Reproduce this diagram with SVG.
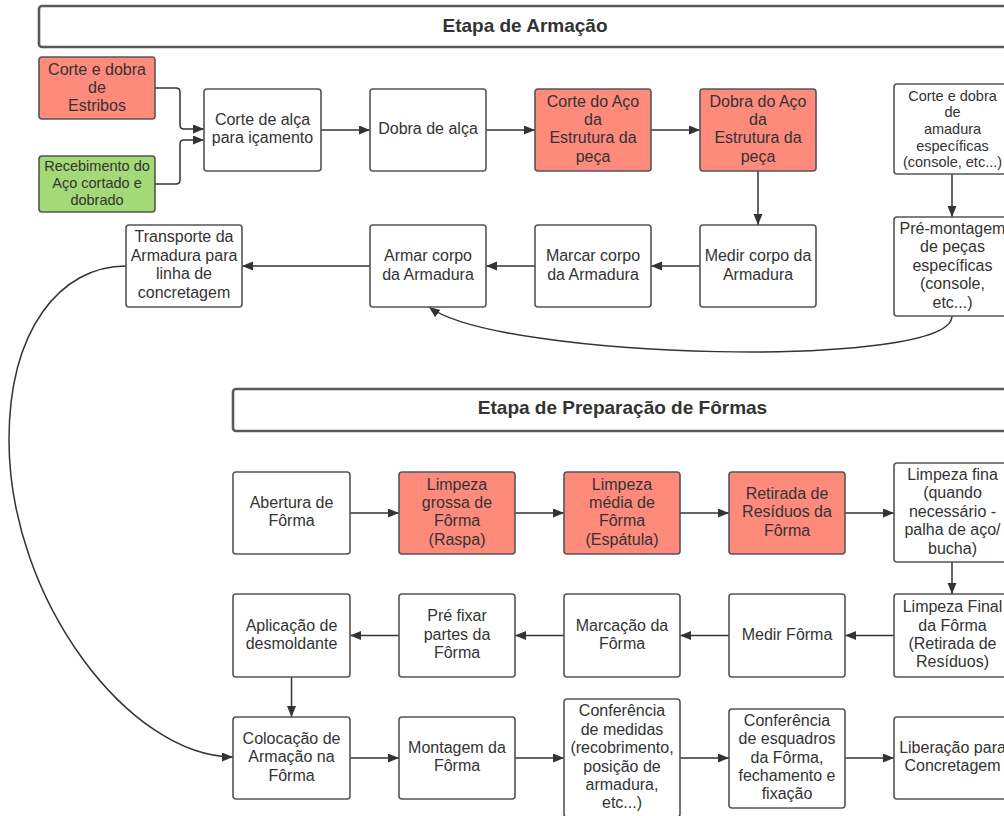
<svg xmlns="http://www.w3.org/2000/svg" width="1004" height="816" viewBox="0 0 1004 816">
<defs>
<style>
.bx{fill:#ffffff;stroke:#555555;stroke-width:1.6}
.red{fill:#FE8A7B}
.grn{fill:#A3D977}
.ttl{fill:#ffffff;stroke:#5a5a5a;stroke-width:2.6}
.t{font-family:"Liberation Sans",Arial,sans-serif;font-size:16px;fill:#333333;text-anchor:middle}
.s{font-size:14.5px}
.h{font-family:"Liberation Sans",Arial,sans-serif;font-size:19px;font-weight:bold;fill:#333333;text-anchor:middle}
.c{fill:none;stroke:#333333;stroke-width:1.5}
</style>
<marker id="ah" markerUnits="userSpaceOnUse" markerWidth="12" markerHeight="10" refX="11" refY="4.5" orient="auto">
<path d="M0,0 L11,4.5 L0,9 z" fill="#333333"/>
</marker>
</defs>
<rect width="1004" height="816" fill="#ffffff"/>

<g id="title-armacao">
<rect class="ttl" x="39" y="6" width="974" height="41" rx="3"/>
<text class="h" x="525" y="32">Etapa de Armação</text>
</g>
<g id="title-formas">
<rect class="ttl" x="233" y="389" width="780" height="42" rx="3"/>
<text class="h" x="622.5" y="414">Etapa de Preparação de Fôrmas</text>
</g>

<g id="connectors">
<path class="c" marker-end="url(#ah)" d="M155,88 H176 Q180,88 180,92 V125 Q180,129 184,129 H204"/>
<path class="c" marker-end="url(#ah)" d="M155,184 H176 Q180,184 180,180 V144 Q180,140 184,140 H204"/>
<path class="c" marker-end="url(#ah)" d="M321,130 H370"/>
<path class="c" marker-end="url(#ah)" d="M486,130 H535"/>
<path class="c" marker-end="url(#ah)" d="M651,130 H700"/>
<path class="c" marker-end="url(#ah)" d="M758,171 V225"/>
<path class="c" marker-end="url(#ah)" d="M952,174 V217"/>
<path class="c" marker-end="url(#ah)" d="M700,266 H651"/>
<path class="c" marker-end="url(#ah)" d="M535,266 H486"/>
<path class="c" marker-end="url(#ah)" d="M370,266 H242"/>
<path class="c" marker-end="url(#ah)" d="M952,316 C952,370 500,360 429,307"/>
<path class="c" marker-end="url(#ah)" d="M126,266 C60,266 9,330 9,440 C9,600 130,757 233,757"/>
<path class="c" marker-end="url(#ah)" d="M350,513 H399"/>
<path class="c" marker-end="url(#ah)" d="M515,513 H564"/>
<path class="c" marker-end="url(#ah)" d="M680,513 H729"/>
<path class="c" marker-end="url(#ah)" d="M845,513 H894"/>
<path class="c" marker-end="url(#ah)" d="M952,562 V594"/>
<path class="c" marker-end="url(#ah)" d="M894,635.5 H845"/>
<path class="c" marker-end="url(#ah)" d="M729,635.5 H680"/>
<path class="c" marker-end="url(#ah)" d="M564,635.5 H515"/>
<path class="c" marker-end="url(#ah)" d="M399,635.5 H350"/>
<path class="c" marker-end="url(#ah)" d="M291.5,677 V717"/>
<path class="c" marker-end="url(#ah)" d="M350,758 H399"/>
<path class="c" marker-end="url(#ah)" d="M515,758 H564"/>
<path class="c" marker-end="url(#ah)" d="M680,758 H729"/>
<path class="c" marker-end="url(#ah)" d="M845,758 H894"/>
</g>

<g id="n-estribos">
<rect class="bx red" x="39" y="57" width="116" height="62" rx="3"/>
<text class="t"><tspan x="97" y="74.5">Corte e dobra</tspan><tspan x="97" y="92.9">de</tspan><tspan x="97" y="111.3">Estribos</tspan></text>
</g>
<g id="n-recebimento">
<rect class="bx grn" x="39" y="156" width="116" height="56" rx="3"/>
<text class="t s"><tspan x="97" y="171.2">Recebimento do</tspan><tspan x="97" y="187.9">Aço cortado e</tspan><tspan x="97" y="204.6">dobrado</tspan></text>
</g>
<g id="n-corte-alca">
<rect class="bx" x="204" y="89" width="117" height="82" rx="3"/>
<text class="t"><tspan x="262.5" y="125">Corte de alça</tspan><tspan x="262.5" y="143.4">para içamento</tspan></text>
</g>
<g id="n-dobra-alca">
<rect class="bx" x="370" y="89" width="116" height="82" rx="3"/>
<text class="t"><tspan x="428" y="134.2">Dobra de alça</tspan></text>
</g>
<g id="n-corte-aco">
<rect class="bx red" x="535" y="89" width="116" height="82" rx="3"/>
<text class="t"><tspan x="593" y="106.6">Corte do Aço</tspan><tspan x="593" y="125">da</tspan><tspan x="593" y="143.4">Estrutura da</tspan><tspan x="593" y="161.8">peça</tspan></text>
</g>
<g id="n-dobra-aco">
<rect class="bx red" x="700" y="89" width="116" height="82" rx="3"/>
<text class="t"><tspan x="758" y="106.6">Dobra do Aço</tspan><tspan x="758" y="125">da</tspan><tspan x="758" y="143.4">Estrutura da</tspan><tspan x="758" y="161.8">peça</tspan></text>
</g>
<g id="n-corte-especificas">
<rect class="bx" x="894" y="84" width="117" height="90" rx="3"/>
<text class="t s"><tspan x="952.5" y="100.5">Corte e dobra</tspan><tspan x="952.5" y="117.2">de</tspan><tspan x="952.5" y="133.9">amadura</tspan><tspan x="952.5" y="150.6">específicas</tspan><tspan x="952.5" y="167.3">(console, etc...)</tspan></text>
</g>
<g id="n-transporte">
<rect class="bx" x="126" y="225" width="116" height="82" rx="3"/>
<text class="t"><tspan x="184" y="242.4">Transporte da</tspan><tspan x="184" y="260.8">Armadura para</tspan><tspan x="184" y="279.2">linha de</tspan><tspan x="184" y="297.6">concretagem</tspan></text>
</g>
<g id="n-armar">
<rect class="bx" x="370" y="225" width="116" height="82" rx="3"/>
<text class="t"><tspan x="428" y="261.2">Armar corpo</tspan><tspan x="428" y="279.6">da Armadura</tspan></text>
</g>
<g id="n-marcar">
<rect class="bx" x="535" y="225" width="116" height="82" rx="3"/>
<text class="t"><tspan x="593" y="261.2">Marcar corpo</tspan><tspan x="593" y="279.6">da Armadura</tspan></text>
</g>
<g id="n-medir-corpo">
<rect class="bx" x="700" y="225" width="116" height="82" rx="3"/>
<text class="t"><tspan x="758" y="261.2">Medir corpo da</tspan><tspan x="758" y="279.6">Armadura</tspan></text>
</g>
<g id="n-pre-montagem">
<rect class="bx" x="894" y="217" width="117" height="99" rx="3"/>
<text class="t"><tspan x="952.5" y="233.9">Pré-montagem</tspan><tspan x="952.5" y="252.3">de peças</tspan><tspan x="952.5" y="270.7">específicas</tspan><tspan x="952.5" y="289.1">(console,</tspan><tspan x="952.5" y="307.5">etc...)</tspan></text>
</g>

<g id="n-abertura">
<rect class="bx" x="233" y="472" width="117" height="82" rx="3"/>
<text class="t"><tspan x="291.5" y="508">Abertura de</tspan><tspan x="291.5" y="526.4">Fôrma</tspan></text>
</g>
<g id="n-limpeza-grossa">
<rect class="bx red" x="399" y="472" width="116" height="82" rx="3"/>
<text class="t"><tspan x="457" y="489.5">Limpeza</tspan><tspan x="457" y="507.9">grossa de</tspan><tspan x="457" y="526.3">Fôrma</tspan><tspan x="457" y="544.7">(Raspa)</tspan></text>
</g>
<g id="n-limpeza-media">
<rect class="bx red" x="564" y="472" width="116" height="82" rx="3"/>
<text class="t"><tspan x="622" y="489.5">Limpeza</tspan><tspan x="622" y="507.9">média de</tspan><tspan x="622" y="526.3">Fôrma</tspan><tspan x="622" y="544.7">(Espátula)</tspan></text>
</g>
<g id="n-retirada">
<rect class="bx red" x="729" y="472" width="116" height="82" rx="3"/>
<text class="t"><tspan x="787" y="498.8">Retirada de</tspan><tspan x="787" y="517.2">Resíduos da</tspan><tspan x="787" y="535.6">Fôrma</tspan></text>
</g>
<g id="n-limpeza-fina">
<rect class="bx" x="894" y="463" width="117" height="99" rx="3"/>
<text class="t"><tspan x="952.5" y="479.9">Limpeza fina</tspan><tspan x="952.5" y="498.3">(quando</tspan><tspan x="952.5" y="516.7">necessário -</tspan><tspan x="952.5" y="535.1">palha de aço/</tspan><tspan x="952.5" y="553.5">bucha)</tspan></text>
</g>

<g id="n-aplicacao">
<rect class="bx" x="233" y="594" width="117" height="83" rx="3"/>
<text class="t"><tspan x="291.5" y="630.6">Aplicação de</tspan><tspan x="291.5" y="649">desmoldante</tspan></text>
</g>
<g id="n-pre-fixar">
<rect class="bx" x="399" y="594" width="116" height="83" rx="3"/>
<text class="t"><tspan x="457" y="621.3">Pré fixar</tspan><tspan x="457" y="639.7">partes da</tspan><tspan x="457" y="658.1">Fôrma</tspan></text>
</g>
<g id="n-marcacao">
<rect class="bx" x="564" y="594" width="116" height="83" rx="3"/>
<text class="t"><tspan x="622" y="630.6">Marcação da</tspan><tspan x="622" y="649">Fôrma</tspan></text>
</g>
<g id="n-medir-forma">
<rect class="bx" x="729" y="594" width="116" height="83" rx="3"/>
<text class="t"><tspan x="787" y="639.7">Medir Fôrma</tspan></text>
</g>
<g id="n-limpeza-final">
<rect class="bx" x="894" y="594" width="117" height="83" rx="3"/>
<text class="t"><tspan x="952.5" y="612.1">Limpeza Final</tspan><tspan x="952.5" y="630.5">da Fôrma</tspan><tspan x="952.5" y="648.9">(Retirada de</tspan><tspan x="952.5" y="667.3">Resíduos)</tspan></text>
</g>

<g id="n-colocacao">
<rect class="bx" x="233" y="717" width="117" height="82" rx="3"/>
<text class="t"><tspan x="291.5" y="743.8">Colocação de</tspan><tspan x="291.5" y="762.2">Armação na</tspan><tspan x="291.5" y="780.6">Fôrma</tspan></text>
</g>
<g id="n-montagem">
<rect class="bx" x="399" y="717" width="116" height="82" rx="3"/>
<text class="t"><tspan x="457" y="753">Montagem da</tspan><tspan x="457" y="771.4">Fôrma</tspan></text>
</g>
<g id="n-conf-medidas">
<rect class="bx" x="564" y="699" width="116" height="118" rx="3"/>
<text class="t"><tspan x="622" y="716.4">Conferência</tspan><tspan x="622" y="734.8">de medidas</tspan><tspan x="622" y="753.2">(recobrimento,</tspan><tspan x="622" y="771.6">posição de</tspan><tspan x="622" y="790">armadura,</tspan><tspan x="622" y="808.4">etc...)</tspan></text>
</g>
<g id="n-conf-esquadros">
<rect class="bx" x="729" y="709" width="116" height="99" rx="3"/>
<text class="t"><tspan x="787" y="725.7">Conferência</tspan><tspan x="787" y="744.1">de esquadros</tspan><tspan x="787" y="762.5">da Fôrma,</tspan><tspan x="787" y="780.9">fechamento e</tspan><tspan x="787" y="799.3">fixação</tspan></text>
</g>
<g id="n-liberacao">
<rect class="bx" x="894" y="717" width="117" height="82" rx="3"/>
<text class="t"><tspan x="952.5" y="753">Liberação para</tspan><tspan x="952.5" y="771.4">Concretagem</tspan></text>
</g>
</svg>
